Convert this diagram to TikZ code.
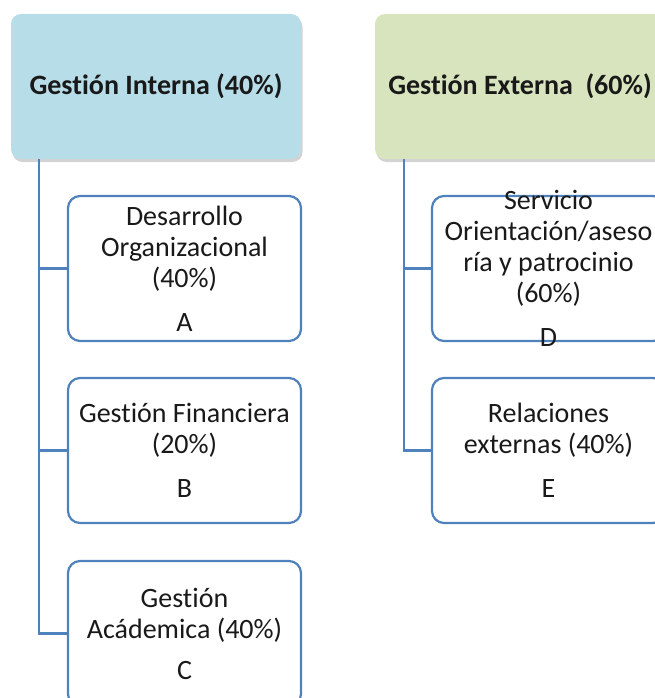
\documentclass[tikz,border=0pt]{standalone}
\usepackage{fontspec}
\setmainfont{Carlito}[Ligatures=NoCommon]
\usetikzlibrary{shadows}
\definecolor{bleuclair}{HTML}{B7DDE8}
\definecolor{vertclair}{HTML}{D7E4BD}
\definecolor{bleutrait}{HTML}{4F81BD}

\begin{document}
\begin{tikzpicture}[x=1pt,y=-1pt,
  tete/.style={rounded corners=10pt, minimum width=290pt, minimum height=145pt,
    drop shadow={shadow xshift=1.5pt,shadow yshift=-3pt,opacity=0.35},
    font=\fontsize{28}{31}\selectfont\bfseries, text=black!90},
  boite/.style={draw=bleutrait, line width=2.2pt, fill=white, rounded corners=12pt,
    minimum width=233pt, minimum height=145pt},
  texte/.style={align=center, font=\fontsize{28}{31}\selectfont, text=black!90},
  trait/.style={draw=bleutrait, line width=2.4pt}]
  \useasboundingbox (0,0) rectangle (655,698);
  \clip (0,0) rectangle (655,698);
  % Gestion interne
  \node[tete, fill=bleuclair] (gi) at (156,86.5) {Gestión Interna (40\%)};
  \node[boite] (a) at (184.5,268.5) {};
  \node[texte] (atxt) at (a) {Desarrollo\\ Organizacional\\ (40\%)\\[13pt] A};
  \node[boite] (b) at (184.5,450.5) {};
  \node[texte] (btxt) at (b) {Gestión Financiera\\ (20\%)\\[13pt] B};
  \node[boite] (c) at (184.5,633.5) {};
  \node[texte] (ctxt) at (c) {Gestión\\ Acádemica (40\%)\\[10pt] C};
  % Gestion externe
  \node[tete, fill=vertclair] (ge) at (520,86.5) {Gestión Externa~~(60\%)};
  \node[boite] (d) at (548.5,268.5) {};
  \node[texte] (dtxt) at (d) {Servicio\\ Orientación/aseso\\ ría y patrocinio\\ (60\%)\\[13pt] D};
  \node[boite] (e) at (548.5,450.5) {};
  \node[texte] (etxt) at (e) {Relaciones\\ externas (40\%)\\[13pt] E};
  % Traits
  \coordinate (gipied) at (39,159);
  \coordinate (gepied) at (404,159);
  \draw[trait] (gipied) |- (a.west);
  \draw[trait] (gipied) |- (b.west);
  \draw[trait] (gipied) |- (c.west);
  \draw[trait] (gepied) |- (d.west);
  \draw[trait] (gepied) |- (e.west);
\end{tikzpicture}
\end{document}
